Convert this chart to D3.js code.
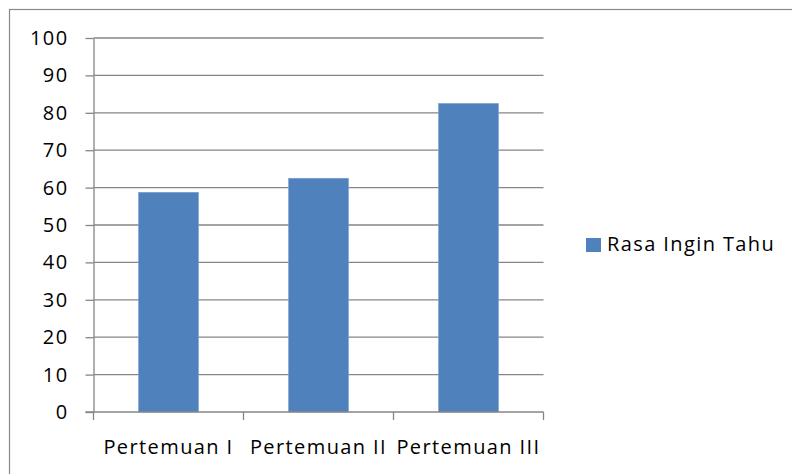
<!DOCTYPE html>
<html>
<head>
<meta charset="utf-8">
<script src="https://cdn.jsdelivr.net/npm/d3@7"></script>
<style>
  html, body { margin: 0; padding: 0; background: #fff; }
  svg { display: block; }
  text { font-family: "Open Sans", Lato, sans-serif; fill: #000; letter-spacing: 1.4px; }
</style>
</head>
<body>
<script>
// Chart data
const categories = ["Pertemuan I", "Pertemuan II", "Pertemuan III"];
const seriesName = "Rasa Ingin Tahu";
const values = [58.75, 62.5, 82.5];
const yTicks = [0, 10, 20, 30, 40, 50, 60, 70, 80, 90, 100];

const W = 792, H = 474;
const plot = { left: 93.5, right: 543.5, top: 38, bottom: 412 };
const gridColor = "#868686";
const barColor = "#4F81BD";
const fontSize = 20;

const svg = d3.select("body").append("svg")
  .attr("width", W).attr("height", H);

// Chart frame (runs past the right and bottom edges)
svg.append("rect")
  .attr("x", 9.5).attr("y", 9.5)
  .attr("width", 800).attr("height", 500)
  .attr("fill", "none")
  .attr("stroke", "#898989")
  .attr("stroke-width", 1.2);

const x = d3.scaleBand()
  .domain(categories)
  .range([plot.left, plot.right])
  .paddingInner(0.6)
  .paddingOuter(0.3);

const y = d3.scaleLinear()
  .domain([0, 100])
  .range([plot.bottom, plot.top]);

// Horizontal gridlines
svg.append("g")
  .selectAll("line")
  .data(yTicks.filter(d => d > 0))
  .join("line")
  .attr("x1", plot.left).attr("x2", plot.right)
  .attr("y1", d => y(d)).attr("y2", d => y(d))
  .attr("stroke", gridColor)
  .attr("stroke-width", 1.3);

// Bars
svg.append("g")
  .selectAll("rect")
  .data(values)
  .join("rect")
  .attr("x", (d, i) => x(categories[i]))
  .attr("y", d => y(d))
  .attr("width", x.bandwidth())
  .attr("height", d => y(0) - y(d))
  .attr("fill", barColor)
  .attr("stroke", "#7FA2CF")
  .attr("stroke-width", 0.6);

// Y axis
const yAxis = d3.axisLeft(y)
  .tickValues(yTicks)
  .tickSize(8)
  .tickPadding(17)
  .tickSizeOuter(0);
const gy = svg.append("g")
  .attr("transform", `translate(${plot.left},0)`)
  .call(yAxis);
gy.select(".domain").attr("stroke", gridColor).attr("stroke-width", 1.3);
gy.selectAll(".tick line").attr("stroke", gridColor).attr("stroke-width", 1.3);
gy.selectAll(".tick text")
  .style("font-family", "'Open Sans', Lato, sans-serif")
  .attr("font-size", fontSize)
  .attr("fill", "#000");

// X axis: ticks at category boundaries, labels centred in each band
const bounds = d3.range(categories.length + 1).map(i => plot.left + i * (plot.right - plot.left) / categories.length);
const gx = svg.append("g");
gx.append("line")
  .attr("x1", plot.left - 8).attr("x2", plot.right)
  .attr("y1", plot.bottom).attr("y2", plot.bottom)
  .attr("stroke", gridColor).attr("stroke-width", 1.3);
gx.selectAll("line.tk")
  .data(bounds)
  .join("line")
  .attr("class", "tk")
  .attr("x1", d => d).attr("x2", d => d)
  .attr("y1", plot.bottom).attr("y2", plot.bottom + 8)
  .attr("stroke", gridColor).attr("stroke-width", 1.3);
gx.selectAll("text")
  .data(categories)
  .join("text")
  .attr("x", d => x(d) + x.bandwidth() / 2)
  .attr("y", 454)
  .attr("text-anchor", "middle")
  .attr("font-size", fontSize)
  .text(d => d);

// Legend
const lg = svg.append("g").attr("transform", "translate(586,238)");
lg.append("rect")
  .attr("width", 15).attr("height", 14)
  .attr("fill", barColor);
lg.append("text")
  .attr("x", 21).attr("y", 13)
  .attr("font-size", fontSize)
  .text(seriesName);
</script>
</body>
</html>
